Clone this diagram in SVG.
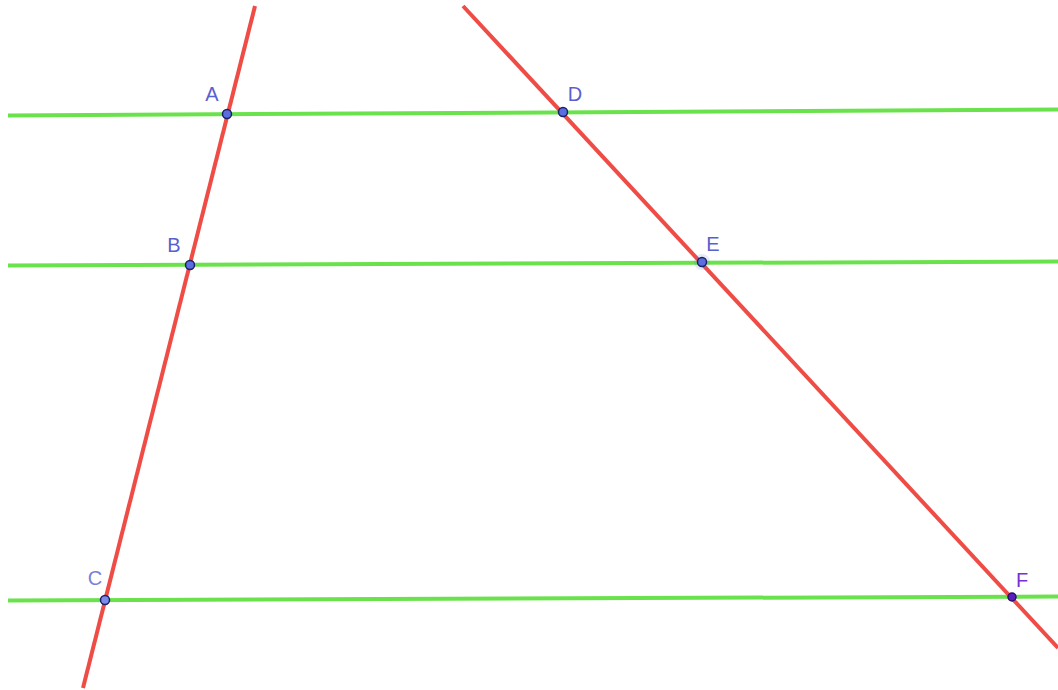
<svg xmlns="http://www.w3.org/2000/svg" width="1058" height="690" viewBox="0 0 1058 690">
<style>
.g{stroke:#6ae24c;stroke-width:4;fill:none;stroke-linecap:butt}
.r{stroke:#ef4c46;stroke-width:4;fill:none}
.p{fill:#5a6ee0;stroke:#1b1f66;stroke-width:1.5}
.l{font-family:"Liberation Sans",Arial,sans-serif;font-size:20px;fill:#5a5fd0;text-anchor:middle}
</style>
<rect width="1058" height="690" fill="#fff"/>
<g id="connectors">
<line class="g" x1="8" y1="115.5" x2="1058" y2="109.5"/>
<line class="g" x1="8" y1="265.5" x2="1058" y2="261.5"/>
<line class="g" x1="8" y1="600.5" x2="1058" y2="596.5"/>
<line class="r" x1="255" y1="6" x2="83" y2="688"/>
<line class="r" x1="463" y1="6" x2="1058" y2="648"/>
</g>
<g id="A"><circle class="p" cx="227" cy="114" r="4.5"/><text class="l" x="212" y="101">A</text></g>
<g id="D"><circle class="p" cx="563" cy="112" r="4.5"/><text class="l" x="575" y="101">D</text></g>
<g id="B"><circle class="p" cx="190" cy="265" r="4.5"/><text class="l" x="174" y="252">B</text></g>
<g id="E"><circle cx="702" cy="262" r="8" fill="#5a6ee0" opacity="0.15"/><circle class="p" cx="702" cy="262" r="4.5"/><text class="l" x="713" y="251">E</text></g>
<g id="C"><circle cx="105" cy="600" r="4.5" fill="#7c8ae8" stroke="#1b1f66" stroke-width="1.5"/><text class="l" x="95" y="585" style="fill:#7a7fd8">C</text></g>
<g id="F"><circle cx="1012" cy="597" r="4" fill="#5a1fc0" stroke="#2a0f66" stroke-width="1.5"/><text class="l" x="1022" y="587" style="fill:#7a2ed4">F</text></g>
</svg>
